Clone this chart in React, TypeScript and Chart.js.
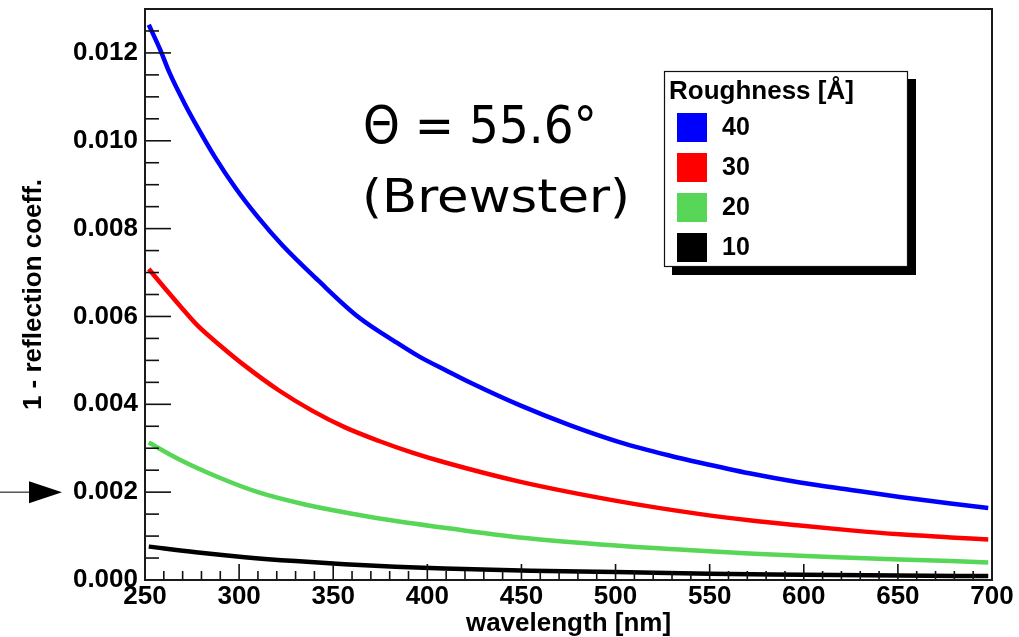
import React, { useEffect, useRef } from "react";
import { Chart, registerables } from "chart.js";

Chart.register(...registerables);

// ---------- data ----------
const roughnessLabels = ["40", "30", "20", "10"];
const seriesColors = ["#0000ff", "#ff0000", "#57d657", "#000000"];

const wl40 = [252, 258, 263, 271, 278, 287, 298, 310, 323, 342, 363, 385, 396, 410, 423, 449, 476, 502, 529, 545, 571, 598, 625, 651, 678, 698];
const val40 = [0.01264, 0.01208, 0.01155, 0.01085, 0.01030, 0.00964, 0.00893, 0.00826, 0.00762, 0.00682, 0.00600, 0.00537, 0.00508, 0.00477, 0.00449, 0.00398, 0.00352, 0.00314, 0.00283, 0.00267, 0.00243, 0.00222, 0.00205, 0.00189, 0.00174, 0.00164];

const wl30 = [252, 261, 270, 278, 291, 303, 321, 339, 356, 374, 392, 409, 449, 502, 545, 571, 598, 625, 651, 678, 698];
const val30 = [0.00708, 0.00662, 0.00617, 0.00579, 0.0053, 0.00488, 0.00432, 0.00385, 0.00348, 0.00317, 0.00290, 0.00268, 0.00224, 0.00179, 0.0015, 0.00136, 0.00124, 0.00113, 0.00104, 0.00097, 0.00092];

const wl20 = [252, 268, 289, 310, 335, 360, 385, 409, 449, 502, 545, 571, 598, 625, 651, 678, 698];
const val20 = [0.00313, 0.00275, 0.00234, 0.00200, 0.00172, 0.00151, 0.00133, 0.00119, 0.00097, 0.00078, 0.000665, 0.000605, 0.00055, 0.000505, 0.000465, 0.00043, 0.0004];

const wl10 = [252, 277, 303, 330, 356, 383, 409, 455, 500, 550, 600, 650, 698];
const val10 = [0.00076, 0.00063, 0.00052, 0.00043, 0.00036, 0.0003, 0.00026, 0.00021, 0.00018, 0.00014, 0.00012, 0.0001, 0.00009];

const xMin = 250;
const xMax = 700;
const xMajorStep = 50;
const xMinorStep = 10;
const yMin = 0;
const yMax = 0.013;
const yMajorStep = 0.002;
const yMinorStep = 0.0005;

const xTitle = "wavelength [nm]";
const yTitle = "1 - reflection coeff.";
const legendTitle = "Roughness [Å]";
const noteLine1 = "Θ = 55.6°";
const noteLine2 = "(Brewster)";
const arrowValue = 0.002;

const FONT = "'Liberation Sans', Arial, Helvetica, sans-serif";
const NOTE_FONT = "'DejaVu Sans', sans-serif";

const toPoints = (xs: number[], ys: number[]) => xs.map((x, i) => ({ x, y: ys[i] }));

const decorPlugin = {
  id: "decor",
  afterDatasetsDraw(chart: any) {
    const { ctx, chartArea: a, scales } = chart;
    const xs = scales.x;
    const ys = scales.y;
    ctx.save();
    ctx.strokeStyle = "#111";
    ctx.lineWidth = 1.6;
    // y ticks (inside)
    const nY = Math.round((yMax - yMin) / yMinorStep);
    const perMajY = Math.round(yMajorStep / yMinorStep);
    for (let i = 0; i <= nY; i++) {
      const v = yMin + i * yMinorStep;
      const py = ys.getPixelForValue(v);
      const len = i % perMajY === 0 ? 26 : 14;
      ctx.beginPath();
      ctx.moveTo(a.left, py);
      ctx.lineTo(a.left + len, py);
      ctx.stroke();
    }
    // x ticks (inside)
    const nX = Math.round((xMax - xMin) / xMinorStep);
    const perMajX = Math.round(xMajorStep / xMinorStep);
    for (let i = 0; i <= nX; i++) {
      const v = xMin + i * xMinorStep;
      const px = xs.getPixelForValue(v);
      const len = i % perMajX === 0 ? 16 : 9;
      ctx.beginPath();
      ctx.moveTo(px, a.bottom);
      ctx.lineTo(px, a.bottom - len);
      ctx.stroke();
    }
    // frame
    ctx.lineWidth = 2;
    ctx.strokeStyle = "#1a1a1a";
    ctx.strokeRect(a.left, a.top, a.right - a.left, a.bottom - a.top);
    ctx.restore();
  },
  afterDraw(chart: any) {
    const { ctx, scales } = chart;
    const ys = scales.y;
    ctx.save();

    // ----- legend box -----
    const lx = 664, ly = 71, lw = 244, lh = 196, sh = 7;
    ctx.fillStyle = "#000";
    ctx.fillRect(lx + sh + 1, ly + sh + 1, lw, lh);
    ctx.fillStyle = "#fff";
    ctx.fillRect(lx, ly, lw, lh);
    ctx.strokeStyle = "#111";
    ctx.lineWidth = 1.2;
    ctx.strokeRect(lx + 0.5, ly + 0.5, lw - 1, lh - 1);
    ctx.fillStyle = "#000";
    ctx.font = `bold 26px ${FONT}`;
    ctx.textAlign = "left";
    ctx.textBaseline = "alphabetic";
    ctx.fillText(legendTitle, lx + 5, ly + 28);
    ctx.font = `bold 25px ${FONT}`;
    chart.data.datasets.forEach((ds: any, i: number) => {
      const top = ly + 42 + i * 40;
      ctx.fillStyle = ds.borderColor;
      ctx.fillRect(lx + 13, top, 30, 29);
      ctx.fillStyle = "#000";
      ctx.textBaseline = "middle";
      ctx.fillText(ds.label, lx + 58, top + 15);
    });

    // ----- annotation -----
    ctx.fillStyle = "#000";
    ctx.textBaseline = "alphabetic";
    const drawScaled = (text: string, size: number, x: number, yb: number, targetW: number) => {
      ctx.font = `${size}px ${NOTE_FONT}`;
      const w = ctx.measureText(text).width;
      ctx.save();
      ctx.translate(x, yb);
      ctx.scale(targetW / w, 1);
      ctx.fillText(text, 0, 0);
      ctx.restore();
    };
    drawScaled(noteLine1, 52, 363, 143, 234);
    drawScaled(noteLine2, 46, 362, 212, 268);

    // ----- arrow pointing to the 0.002 label -----
    const ay = ys.getPixelForValue(arrowValue);
    ctx.strokeStyle = "#000";
    ctx.lineWidth = 1;
    ctx.beginPath();
    ctx.moveTo(0, ay);
    ctx.lineTo(31, ay);
    ctx.stroke();
    ctx.beginPath();
    ctx.moveTo(29, ay - 11);
    ctx.lineTo(62, ay);
    ctx.lineTo(29, ay + 11);
    ctx.closePath();
    ctx.fill();

    ctx.restore();
  },
};

export default function App() {
  const canvasRef = useRef<HTMLCanvasElement | null>(null);

  useEffect(() => {
    if (!canvasRef.current) return;
    const series = [toPoints(wl40, val40), toPoints(wl30, val30), toPoints(wl20, val20), toPoints(wl10, val10)];
    const chart = new Chart(canvasRef.current, {
      type: "line",
      data: {
        datasets: series.map((pts, i) => ({
          label: roughnessLabels[i],
          data: pts,
          borderColor: seriesColors[i],
          backgroundColor: seriesColors[i],
          borderWidth: 4.5,
          pointRadius: 0,
          fill: false,
          cubicInterpolationMode: "monotone" as const,
        })),
      },
      options: {
        responsive: false,
        animation: false,
        events: [],
        layout: { padding: { top: 9, right: 27, left: 0, bottom: 0 } },
        plugins: { legend: { display: false }, tooltip: { enabled: false } },
        scales: {
          x: {
            type: "linear",
            min: xMin,
            max: xMax,
            afterFit: (s: any) => {
              s.height = 57;
              s.paddingLeft = 0;
              s.paddingRight = 0;
            },
            grid: { display: false, drawTicks: false },
            border: { display: false },
            ticks: {
              stepSize: xMajorStep,
              includeBounds: false,
              autoSkip: false,
              maxRotation: 0,
              padding: 1,
              color: "#000",
              font: { family: FONT, size: 26, weight: "bold", lineHeight: 1.2 },
            },
            title: {
              display: true,
              text: xTitle,
              color: "#000",
              padding: { top: 0, bottom: 0 },
              font: { family: FONT, size: 26, weight: "bold", lineHeight: 1 },
            },
          },
          y: {
            type: "linear",
            min: yMin,
            max: yMax,
            afterFit: (s: any) => {
              s.width = 145;
              s.paddingTop = 0;
              s.paddingBottom = 0;
            },
            grid: { display: false, drawTicks: false },
            border: { display: false },
            ticks: {
              stepSize: yMajorStep,
              includeBounds: false,
              padding: 7,
              color: "#000",
              font: { family: FONT, size: 26, weight: "bold", lineHeight: 1.2 },
              callback: (v: any) => Number(v).toFixed(3),
            },
            title: {
              display: true,
              text: yTitle,
              color: "#000",
              padding: { top: 21, bottom: 0 },
              font: { family: FONT, size: 26, weight: "bold", lineHeight: 1 },
            },
          },
        },
      },
      plugins: [decorPlugin],
    } as any);
    return () => chart.destroy();
  }, []);

  return (
    <div style={{ position: "fixed", left: 0, top: 0, width: 1019, height: 637, background: "#fff" }}>
      <canvas ref={canvasRef} width={1019} height={637} style={{ display: "block" }} />
    </div>
  );
}
